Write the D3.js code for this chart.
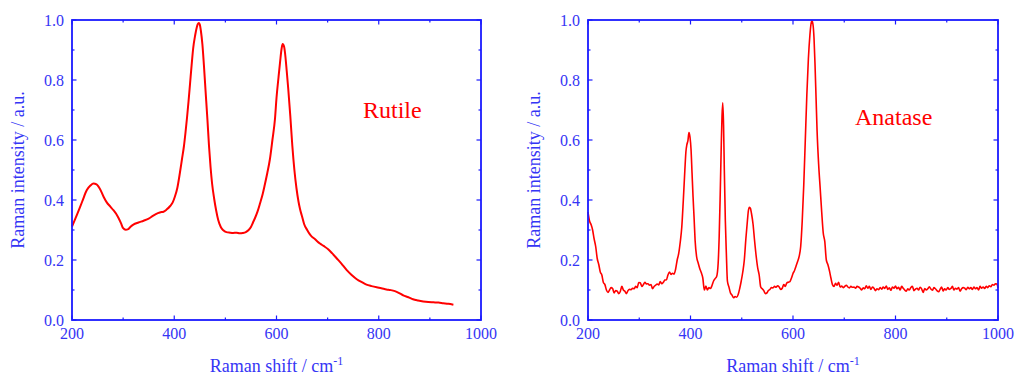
<!DOCTYPE html>
<html lang="en">
<head>
<meta charset="UTF-8">
<title>Raman spectra - Rutile / Anatase</title>
<script src="https://d3js.org/d3.v7.min.js"></script>
<style>
    body, html { margin: 0; padding: 0; background: #fff; overflow: hidden; }
    svg { display: block; font-family: 'Liberation Serif', 'Times New Roman', serif; }
</style>
</head>
<body>
<svg width="1014" height="377"></svg>
<script>
// Rutile spectrum: [Raman shift cm-1, normalised intensity]
const rutileData = [
    [200, 0.311], [210, 0.352], [220, 0.395], [229, 0.433], [236, 0.448], [242, 0.455], [248, 0.452],
    [255, 0.436], [262, 0.41], [268, 0.392], [275, 0.378], [281, 0.366], [286, 0.355], [291, 0.34],
    [296, 0.322], [300, 0.306], [305, 0.301], [310, 0.303], [315, 0.312], [320, 0.318], [330, 0.325],
    [340, 0.331], [350, 0.338], [359, 0.348], [368, 0.356], [375, 0.36], [379, 0.361], [385, 0.368],
    [392, 0.38], [397, 0.392], [401, 0.41], [406, 0.44], [411, 0.49], [415, 0.535], [419, 0.58],
    [422, 0.625], [425, 0.675], [428, 0.73], [431, 0.79], [434, 0.85], [437, 0.905], [441, 0.95],
    [444, 0.975], [446, 0.986], [448, 0.99], [450, 0.985], [452, 0.965], [455, 0.92], [458, 0.85],
    [461, 0.77], [465, 0.665], [468, 0.58], [471, 0.51], [474, 0.455], [478, 0.405], [482, 0.365],
    [486, 0.333], [491, 0.31], [496, 0.299], [502, 0.293], [509, 0.291], [515, 0.29], [522, 0.291],
    [528, 0.289], [534, 0.29], [540, 0.293], [545, 0.299], [550, 0.31], [554, 0.325], [558, 0.34],
    [563, 0.362], [568, 0.39], [573, 0.42], [577, 0.45], [582, 0.49], [587, 0.535], [592, 0.6],
    [597, 0.67], [600, 0.74], [604, 0.81], [607, 0.86], [610, 0.905], [612, 0.92], [615, 0.91],
    [617, 0.885], [620, 0.83], [623, 0.77], [627, 0.68], [631, 0.58], [635, 0.5], [639, 0.44],
    [643, 0.395], [646, 0.37], [650, 0.345], [654, 0.32], [660, 0.3], [665, 0.286], [669, 0.278],
    [675, 0.27], [680, 0.262], [685, 0.255], [692, 0.247], [701, 0.236], [709, 0.222], [718, 0.205],
    [727, 0.188], [737, 0.167], [747, 0.15], [757, 0.136], [767, 0.126], [776, 0.118], [786, 0.113],
    [796, 0.109], [805, 0.106], [815, 0.102], [822, 0.1], [828, 0.098], [835, 0.094], [842, 0.088],
    [848, 0.082], [858, 0.076], [867, 0.069], [877, 0.065], [887, 0.062], [897, 0.06], [907, 0.059],
    [917, 0.058], [926, 0.056], [936, 0.054], [946, 0.051]
];

// Anatase spectrum: low-shift tail and peaks
const anataseLow = [
    [200, 0.36], [203, 0.33], [206, 0.318], [209, 0.3], [212, 0.27], [215, 0.245], [218, 0.205],
    [221, 0.185], [224, 0.16], [227, 0.15], [230, 0.125], [233, 0.118], [236, 0.1], [239, 0.092],
    [242, 0.1], [245, 0.108], [248, 0.105], [251, 0.09], [254, 0.098], [257, 0.096], [260, 0.088],
    [263, 0.095], [266, 0.112], [269, 0.1], [272, 0.096], [275, 0.088], [278, 0.098], [281, 0.102],
    [284, 0.101], [287, 0.106], [290, 0.104], [293, 0.112], [296, 0.108], [299, 0.125], [302, 0.124],
    [305, 0.112], [308, 0.118], [311, 0.126], [314, 0.12], [317, 0.121], [320, 0.116], [323, 0.118],
    [326, 0.104], [329, 0.112], [332, 0.116], [335, 0.12], [338, 0.117], [341, 0.128], [344, 0.121],
    [347, 0.126], [350, 0.133], [353, 0.134], [356, 0.15], [359, 0.16], [362, 0.152], [365, 0.156],
    [368, 0.153], [371, 0.17], [374, 0.2], [377, 0.222], [380, 0.26], [383, 0.31], [386, 0.4],
    [389, 0.5], [391, 0.56], [393, 0.585], [395, 0.598], [397, 0.625], [399, 0.61], [401, 0.57],
    [403, 0.49], [405, 0.41], [407, 0.34], [409, 0.265], [412, 0.21], [415, 0.19], [418, 0.172],
    [421, 0.158], [424, 0.14], [427, 0.1], [430, 0.113], [433, 0.1], [436, 0.108], [439, 0.105],
    [442, 0.115], [445, 0.13], [448, 0.138], [451, 0.145], [454, 0.19], [456, 0.28], [458, 0.42],
    [460, 0.58], [461.5, 0.68], [463, 0.724], [464.5, 0.65], [466, 0.5], [468, 0.33], [470, 0.22],
    [472, 0.13], [475, 0.11], [478, 0.09], [481, 0.083], [484, 0.074], [487, 0.078], [490, 0.076],
    [493, 0.085], [496, 0.105], [499, 0.13], [502, 0.16], [505, 0.2], [508, 0.27], [511, 0.33],
    [513, 0.365], [515, 0.376], [517, 0.372], [519, 0.355], [522, 0.32], [525, 0.265], [528, 0.215],
    [531, 0.175], [534, 0.15], [537, 0.11], [540, 0.104], [543, 0.098], [546, 0.088], [549, 0.09],
    [552, 0.098], [555, 0.102], [558, 0.108], [561, 0.107], [564, 0.112], [567, 0.109], [570, 0.114],
    [573, 0.11], [576, 0.102], [579, 0.106], [582, 0.118], [585, 0.112], [588, 0.124], [591, 0.126],
    [594, 0.128], [597, 0.14], [600, 0.155], [603, 0.165], [606, 0.18], [609, 0.195], [612, 0.212],
    [615, 0.245], [618, 0.33], [621, 0.45], [624, 0.6], [627, 0.75], [630, 0.87], [633, 0.95],
    [635, 0.985], [637, 0.997], [639, 0.985], [641, 0.94], [643, 0.85], [645, 0.74], [647, 0.63],
    [650, 0.52], [653, 0.44], [656, 0.36], [659, 0.29], [662, 0.262], [665, 0.2], [668, 0.185],
    [671, 0.165], [674, 0.14], [677, 0.118], [680, 0.112], [683, 0.122], [686, 0.116], [689, 0.126],
    [692, 0.11], [695, 0.113], [698, 0.108]
];
// Anatase noisy baseline, 701 to 1000 cm-1
const anataseHigh = [
    [701, 0.112], [704, 0.116], [707, 0.11], [710, 0.107], [713, 0.112], [716, 0.109], [719, 0.11],
    [722, 0.106], [725, 0.112], [728, 0.11], [731, 0.106], [734, 0.1], [737, 0.107], [740, 0.104],
    [743, 0.114], [746, 0.106], [749, 0.112], [752, 0.102], [755, 0.11], [758, 0.106], [761, 0.098],
    [764, 0.104], [767, 0.101], [770, 0.108], [773, 0.103], [776, 0.11], [779, 0.105], [782, 0.113],
    [785, 0.102], [788, 0.107], [791, 0.099], [794, 0.11], [797, 0.106], [800, 0.113], [803, 0.104],
    [806, 0.109], [809, 0.1], [812, 0.112], [815, 0.106], [818, 0.1], [821, 0.096], [824, 0.104],
    [827, 0.1], [830, 0.108], [833, 0.112], [836, 0.098], [839, 0.103], [842, 0.106], [845, 0.1],
    [848, 0.109], [851, 0.104], [854, 0.092], [857, 0.105], [860, 0.1], [863, 0.104], [866, 0.111],
    [869, 0.103], [872, 0.099], [875, 0.108], [878, 0.104], [881, 0.098], [884, 0.094], [887, 0.102],
    [890, 0.11], [893, 0.097], [896, 0.104], [899, 0.1], [902, 0.108], [905, 0.102], [908, 0.105],
    [911, 0.112], [914, 0.1], [917, 0.106], [920, 0.103], [923, 0.108], [926, 0.096], [929, 0.104],
    [932, 0.108], [935, 0.106], [938, 0.101], [941, 0.109], [944, 0.104], [947, 0.108], [950, 0.102],
    [953, 0.11], [956, 0.104], [959, 0.108], [962, 0.1], [965, 0.112], [968, 0.106], [971, 0.11],
    [974, 0.105], [977, 0.112], [980, 0.108], [983, 0.114], [986, 0.111], [989, 0.118], [992, 0.116],
    [995, 0.121], [998, 0.12], [1000, 0.106]
];
const anataseData = anataseLow.concat(anataseHigh);

const xTicks = [200, 400, 600, 800, 1000];
const xMinor = [300, 500, 700, 900];
const yTicks = [0.0, 0.2, 0.4, 0.6, 0.8, 1.0];
const yMinor = [0.1, 0.3, 0.5, 0.7, 0.9];

const axisColor = "#1a1aff";
const textColor = "#3535f5";
const lineColor = "#ff0000";

const svg = d3.select("svg");

function panel(opts) {
    const {left, right, top, bottom, data, label, labelX, labelY, ylabX, lineW} = opts;
    const x = d3.scaleLinear().domain([200, 1000]).range([left, right]);
    const y = d3.scaleLinear().domain([0, 1]).range([bottom, top]);
    const g = svg.append("g");

    // tick marks, all pointing inwards, on all four sides
    const tickG = g.append("g").attr("stroke", axisColor).attr("stroke-width", 1.2);
    const vt = [...xTicks.map(v => [v, 4.5]), ...xMinor.map(v => [v, 2.5])];
    vt.forEach(([v, len]) => {
        tickG.append("line").attr("x1", x(v)).attr("x2", x(v)).attr("y1", bottom).attr("y2", bottom - len);
        tickG.append("line").attr("x1", x(v)).attr("x2", x(v)).attr("y1", top).attr("y2", top + len);
    });
    const ht = [...yTicks.map(v => [v, 4.5]), ...yMinor.map(v => [v, 2.5])];
    ht.forEach(([v, len]) => {
        tickG.append("line").attr("y1", y(v)).attr("y2", y(v)).attr("x1", left).attr("x2", left + len);
        tickG.append("line").attr("y1", y(v)).attr("y2", y(v)).attr("x1", right).attr("x2", right - len);
    });

    // spectrum
    g.append("path")
        .datum(data)
        .attr("fill", "none")
        .attr("stroke", lineColor)
        .attr("stroke-width", lineW)
        .attr("stroke-linejoin", "round")
        .attr("d", d3.line().x(d => x(d[0])).y(d => y(d[1])).curve(d3.curveMonotoneX));

    // frame
    g.append("rect")
        .attr("x", left).attr("y", top)
        .attr("width", right - left).attr("height", bottom - top)
        .attr("fill", "none").attr("stroke", axisColor).attr("stroke-width", 1.8);

    // tick labels
    g.selectAll(".xl").data(xTicks).enter().append("text")
        .attr("x", d => x(d)).attr("y", bottom + 19)
        .attr("text-anchor", "middle").attr("fill", textColor).attr("font-size", 16)
        .text(d => d);
    g.selectAll(".yl").data(yTicks).enter().append("text")
        .attr("x", left - 8).attr("y", d => y(d) + 5.5)
        .attr("text-anchor", "end").attr("fill", textColor).attr("font-size", 16)
        .text(d => d3.format(".1f")(d));

    // axis titles
    const xt = g.append("text")
        .attr("x", (left + right) / 2).attr("y", 372)
        .attr("text-anchor", "middle").attr("fill", textColor).attr("font-size", 18);
    xt.append("tspan").text("Raman shift / cm");
    xt.append("tspan").attr("dy", -7).attr("font-size", 12).text("-1");

    g.append("text")
        .attr("transform", `translate(${ylabX},${(top + bottom) / 2}) rotate(-90)`)
        .attr("text-anchor", "middle").attr("fill", textColor).attr("font-size", 18)
        .text("Raman intensity / a.u.");

    // sample label
    g.append("text")
        .attr("x", labelX).attr("y", labelY)
        .attr("fill", lineColor).attr("font-size", 24)
        .text(label);
}

panel({left: 72, right: 481, top: 20, bottom: 320, data: rutileData,
       label: "Rutile", labelX: 363, labelY: 118, ylabX: 24, lineW: 2});
panel({left: 588, right: 998, top: 20, bottom: 320, data: anataseData,
       label: "Anatase", labelX: 855, labelY: 125, ylabX: 540, lineW: 1.6});
</script>
</body>
</html>
